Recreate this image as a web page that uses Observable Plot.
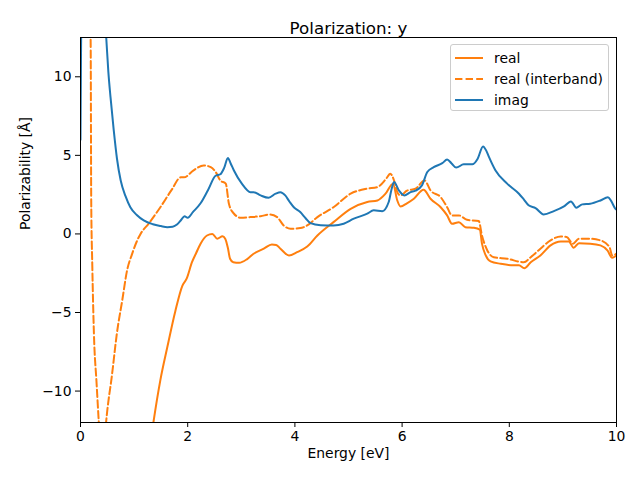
<!DOCTYPE html>
<html>
<head>
<meta charset="utf-8">
<script src="https://cdn.jsdelivr.net/npm/d3@7"></script>
<script src="https://cdn.jsdelivr.net/npm/@observablehq/plot@0.6"></script>
<style>
  html, body { margin: 0; padding: 0; background: white; }
  #wrap { position: relative; width: 640px; height: 480px; font-family: "DejaVu Sans", sans-serif; }
  #legend { position: absolute; left: 450px; top: 44px; width: 157px; height: 65px; border: 1px solid #cccccc; border-radius: 3px; background: rgba(255,255,255,0.8); font-size: 13.9px; }
  .row { position: absolute; left: 0; height: 20px; display: flex; align-items: center; }
  .row svg { margin-left: 4px; margin-right: 11px; }
</style>
</head>
<body>
<div id="wrap"><div id="legend"></div></div>
<script>
const title = "Polarization: y";
const xLabel = "Energy [eV]";
const yLabel = "Polarizability [Å]";
const xTicks = [0, 2, 4, 6, 8, 10];
const yTicks = [-10, -5, 0, 5, 10];
const seriesNames = ["real", "real (interband)", "imag"];
const seriesColors = ["#ff7f0e", "#ff7f0e", "#1f77b4"];

const realE = [1.2,1.36,1.49,1.62,1.77,1.9,1.98,2.08,2.16,2.24,2.36,2.46,2.55,2.65,2.7,2.75,2.79,2.85,2.96,3.11,3.23,3.42,3.57,3.65,3.73,3.89,4.04,4.23,4.42,4.72,5.04,5.35,5.54,5.69,5.83,5.91,5.97,6.09,6.22,6.4,6.53,6.72,6.84,6.93,7.06,7.18,7.34,7.45,7.49,7.56,7.65,7.84,8.08,8.18,8.28,8.4,8.58,8.77,8.96,9.11,9.2,9.3,9.51,9.7,9.83,9.92,10];
const realV = [-16,-12,-9.3,-7.2,-4.9,-3.3,-2.85,-1.8,-1.2,-0.62,-0.1,0.0,-0.3,-0.15,-0.3,-0.9,-1.58,-1.8,-1.84,-1.6,-1.26,-0.94,-0.67,-0.7,-0.94,-1.37,-1.16,-0.8,-0.1,0.75,1.6,2.03,2.13,2.56,3.2,2.13,1.75,1.95,2.24,2.81,2.24,1.7,1.18,0.65,0.75,0.43,0.39,0.27,-0.62,-1.37,-1.75,-1.9,-2.0,-2.0,-2.18,-1.8,-1.37,-0.73,-0.48,-0.48,-0.88,-0.59,-0.62,-0.73,-1.05,-1.52,-1.37];

const interE = [0.1,0.17,0.19,0.2,0.22,0.25,0.3,0.34,0.38,0.43,0.48,0.59,0.68,0.78,0.87,0.96,1.06,1.12,1.27,1.49,1.7,1.87,1.93,2.11,2.3,2.43,2.52,2.61,2.71,2.77,2.86,2.99,3.17,3.36,3.54,3.67,3.79,3.92,4.1,4.23,4.42,4.72,5.04,5.35,5.54,5.7,5.78,5.85,5.91,5.97,6.09,6.25,6.42,6.53,6.72,6.84,6.93,7.06,7.21,7.43,7.49,7.59,7.71,7.96,8.27,8.4,8.58,8.77,8.96,9.07,9.19,9.3,9.51,9.7,9.87,9.92,10];
const interV = [40,16,12,2.1,-2,-6.3,-9.5,-11.9,-14,-14,-11.9,-8.9,-6.3,-4.2,-2.3,-1.3,-0.4,0.0,0.65,1.7,2.8,3.6,3.6,4.05,4.36,4.25,3.95,3.4,3.2,1.9,1.3,1.03,1.07,1.13,1.24,1.07,0.54,0.33,0.37,0.54,1.07,1.7,2.56,2.88,2.98,3.5,3.83,3.4,2.66,2.45,2.75,2.88,3.4,2.77,2.34,1.7,1.18,1.18,0.9,0.82,-0.1,-1.05,-1.48,-1.58,-1.8,-1.48,-0.94,-0.41,-0.16,-0.2,-0.62,-0.31,-0.31,-0.41,-0.84,-1.37,-1.26];

const imagE = [0,0.02,0.45,0.48,0.52,0.56,0.62,0.68,0.75,0.84,0.93,1.05,1.18,1.35,1.5,1.62,1.72,1.8,1.88,1.94,2.0,2.1,2.24,2.38,2.52,2.61,2.68,2.75,2.8,2.86,3.01,3.17,3.23,3.36,3.51,3.64,3.73,3.82,3.9,3.98,4.1,4.2,4.29,4.48,4.72,4.91,5.1,5.35,5.47,5.63,5.75,5.8,5.85,5.94,6.04,6.16,6.25,6.37,6.47,6.59,6.75,6.84,6.92,7.01,7.15,7.31,7.41,7.51,7.57,7.62,7.74,7.96,8.18,8.27,8.36,8.49,8.64,8.83,9.02,9.15,9.25,9.36,9.51,9.7,9.84,9.9,9.98,10];
const imagV = [6,14,14,12.5,10.3,8.7,6.6,4.8,3.4,2.4,1.7,1.2,0.86,0.62,0.5,0.43,0.46,0.6,0.9,1.13,1.03,1.4,1.95,2.8,3.7,3.8,4.2,4.83,4.5,4.05,3.2,2.66,2.66,2.45,2.3,2.56,2.66,2.45,2.05,1.7,1.39,1.0,0.69,0.56,0.54,0.65,0.97,1.29,1.5,1.45,2.03,2.8,3.3,2.77,2.45,2.66,2.75,3.09,3.94,4.25,4.5,4.73,4.5,4.22,4.43,4.43,4.79,5.57,5.3,4.9,4.05,3.2,2.56,2.2,1.82,1.64,1.24,1.45,1.75,2.07,1.67,1.88,1.92,2.13,2.34,2.1,1.6,1.55];

const toRows = (E, V) => E.map((e, i) => ({e, v: V[i]}));
const real = toRows(realE, realV);
const inter = toRows(interE, interV);
const imag = toRows(imagE, imagV);

const LW = 2;
const DASH = "7.4,3.2";

const plot = Plot.plot({
  width: 640, height: 480,
  marginLeft: 80, marginRight: 24, marginTop: 37, marginBottom: 58,
  style: {fontFamily: "DejaVu Sans, sans-serif", fontSize: "13.9px", color: "black", background: "white"},
  x: {domain: [0, 10]},
  y: {domain: [-12, 12.5]},
  marks: [
    Plot.axisX({ticks: xTicks, tickSize: 5, tickPadding: 4, label: null}),
    Plot.axisY({ticks: yTicks, tickSize: 5, tickPadding: 4, label: null}),
    Plot.line(real, {x: "e", y: "v", stroke: seriesColors[0], strokeWidth: LW, clip: true, curve: "monotone-x"}),
    Plot.line(inter, {x: "e", y: "v", stroke: seriesColors[1], strokeWidth: LW, strokeDasharray: DASH, clip: true, curve: "monotone-x"}),
    Plot.line(imag, {x: "e", y: "v", stroke: seriesColors[2], strokeWidth: LW, clip: true, curve: "monotone-x"}),
    Plot.frame({stroke: "black", strokeWidth: 1}),
    Plot.text([title], {frameAnchor: "top", dy: -15, text: d => d, fontSize: 16.7}),
    Plot.text([xLabel], {frameAnchor: "bottom", dy: 35, text: d => d}),
    Plot.text([yLabel], {frameAnchor: "left", dx: -55, rotate: -90, text: d => d})
  ]
});
document.getElementById("wrap").prepend(plot);

const legend = document.getElementById("legend");
seriesNames.forEach((name, i) => {
  const row = document.createElement("div");
  row.className = "row";
  row.style.top = (3 + i * 21) + "px";
  const dash = i === 1 ? ` stroke-dasharray="${DASH}"` : '';
  row.innerHTML = `<svg width="28" height="4"><line x1="0" y1="2" x2="28" y2="2" stroke="${seriesColors[i]}" stroke-width="${LW}"${dash}/></svg><span>${name}</span>`;
  legend.appendChild(row);
});
</script>
</body>
</html>
